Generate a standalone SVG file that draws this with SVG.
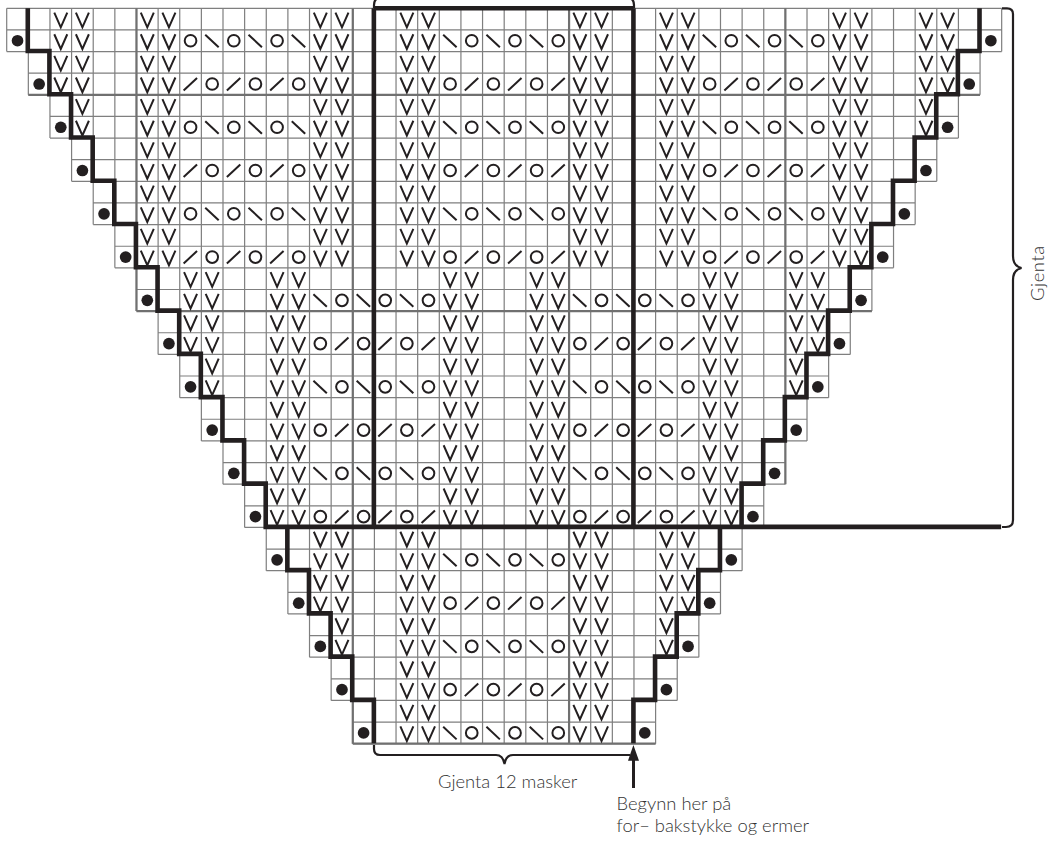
<svg xmlns="http://www.w3.org/2000/svg" width="1051" height="842" viewBox="0 0 1051 842">
<style>
.thin{fill:none;stroke:#7f7f7f;stroke-width:1.2;vector-effect:non-scaling-stroke}
.med{fill:none;stroke:#707070;stroke-width:2.2;vector-effect:non-scaling-stroke}
.bold{fill:none;stroke:#231f20;stroke-width:4.6;vector-effect:non-scaling-stroke}
.sym{fill:none;stroke:#231f20;stroke-width:2;vector-effect:non-scaling-stroke}
.brace{fill:none;stroke:#231f20;stroke-width:2.2}
.lbl{font-family:"Lato","Liberation Sans",sans-serif;font-weight:300;font-size:18.4px;fill:#333}
</style>
<defs>
<path id="v" class="sym" d="M.2 .2L.5 .88L.8 .2"/>
<circle id="o" class="sym" cx=".5" cy=".5" r=".27"/>
<path id="b" class="sym" d="M.18 .22L.8 .8"/>
<path id="f" class="sym" d="M.18 .8L.8 .22"/>
<circle id="d" cx=".5" cy=".5" r=".27" fill="#231f20"/>
<g id="vv"><use href="#v"/><use href="#v" x="1"/></g>
<g id="la"><use href="#o"/><use href="#b" x="1"/><use href="#o" x="2"/><use href="#b" x="3"/><use href="#o" x="4"/><use href="#b" x="5"/></g>
<g id="lb"><use href="#f"/><use href="#o" x="1"/><use href="#f" x="2"/><use href="#o" x="3"/><use href="#f" x="4"/><use href="#o" x="5"/></g>
<g id="lc"><use href="#b"/><use href="#o" x="1"/><use href="#b" x="2"/><use href="#o" x="3"/><use href="#b" x="4"/><use href="#o" x="5"/></g>
<g id="ld"><use href="#o"/><use href="#f" x="1"/><use href="#o" x="2"/><use href="#f" x="3"/><use href="#o" x="4"/><use href="#f" x="5"/></g>
<g id="u"><use href="#vv" x="6"/><use href="#vv" x="14"/><use href="#vv" x="18"/><use href="#vv" x="26"/><use href="#vv" x="30"/><use href="#vv" x="38"/></g>
<g id="m"><use href="#vv" x="12"/><use href="#vv" x="20"/><use href="#vv" x="24"/><use href="#vv" x="32"/></g>
<g id="l"><use href="#vv" x="18"/><use href="#vv" x="26"/></g>
</defs>
<rect width="1051" height="842" fill="#fff"/>
<g id="chart" transform="translate(6.7 8.3) scale(21.63)">
<path id="grid" class="thin" d="M0 0H46M0 1H46M0 2H46M1 3H45M1 4H45M2 5H44M2 6H44M3 7H43M3 8H43M4 9H42M4 10H42M5 11H41M5 12H41M6 13H40M6 14H40M7 15H39M7 16H39M8 17H38M8 18H38M9 19H37M9 20H37M10 21H36M10 22H36M11 23H35M11 24H35M12 25H34M12 26H34M13 27H33M13 28H33M14 29H32M14 30H32M15 31H31M15 32H31M16 33H30M16 34H30M0 0V2M1 0V4M2 0V6M3 0V8M4 0V10M5 0V12M6 0V14M7 0V16M8 0V18M9 0V20M10 0V22M11 0V24M12 0V26M13 0V28M14 0V30M15 0V32M16 0V34M17 0V34M18 0V34M19 0V34M20 0V34M21 0V34M22 0V34M23 0V34M24 0V34M25 0V34M26 0V34M27 0V34M28 0V34M29 0V34M30 0V34M31 0V32M32 0V30M33 0V28M34 0V26M35 0V24M36 0V22M37 0V20M38 0V18M39 0V16M40 0V14M41 0V12M42 0V10M43 0V8M44 0V6M45 0V4M46 0V2"/>
<path id="grid-heavy" class="med" d="M6 0V14M16 0V34M26 0V34M36 0V22M1 4H45M6 14H40M16 34H30"/>
<g id="symbols">
<use href="#u" y="0"/><use href="#u" y="1"/><use href="#u" y="2"/><use href="#u" y="3"/><use href="#u" y="4"/><use href="#u" y="5"/><use href="#u" y="6"/><use href="#u" y="7"/><use href="#u" y="8"/><use href="#u" y="9"/><use href="#u" y="10"/><use href="#u" y="11"/>
<use href="#vv" x="2" y="0"/><use href="#vv" x="42" y="0"/><use href="#vv" x="2" y="1"/><use href="#vv" x="42" y="1"/><use href="#vv" x="2" y="2"/><use href="#vv" x="42" y="2"/><use href="#vv" x="2" y="3"/><use href="#vv" x="42" y="3"/>
<use href="#v" x="3" y="4"/><use href="#v" x="42" y="4"/><use href="#v" x="3" y="5"/><use href="#v" x="42" y="5"/>
<use href="#la" x="8" y="1"/><use href="#lc" x="20" y="1"/><use href="#lc" x="32" y="1"/>
<use href="#lb" x="8" y="3"/><use href="#ld" x="20" y="3"/><use href="#ld" x="32" y="3"/>
<use href="#la" x="8" y="5"/><use href="#lc" x="20" y="5"/><use href="#lc" x="32" y="5"/>
<use href="#lb" x="8" y="7"/><use href="#ld" x="20" y="7"/><use href="#ld" x="32" y="7"/>
<use href="#la" x="8" y="9"/><use href="#lc" x="20" y="9"/><use href="#lc" x="32" y="9"/>
<use href="#lb" x="8" y="11"/><use href="#ld" x="20" y="11"/><use href="#ld" x="32" y="11"/>
<use href="#m" y="12"/><use href="#m" y="13"/><use href="#m" y="14"/><use href="#m" y="15"/><use href="#m" y="16"/><use href="#m" y="17"/><use href="#m" y="18"/><use href="#m" y="19"/><use href="#m" y="20"/><use href="#m" y="21"/><use href="#m" y="22"/><use href="#m" y="23"/>
<use href="#vv" x="8" y="12"/><use href="#vv" x="36" y="12"/><use href="#vv" x="8" y="13"/><use href="#vv" x="36" y="13"/><use href="#vv" x="8" y="14"/><use href="#vv" x="36" y="14"/><use href="#vv" x="8" y="15"/><use href="#vv" x="36" y="15"/>
<use href="#v" x="9" y="16"/><use href="#v" x="36" y="16"/><use href="#v" x="9" y="17"/><use href="#v" x="36" y="17"/>
<use href="#lc" x="14" y="13"/><use href="#lc" x="26" y="13"/>
<use href="#ld" x="14" y="15"/><use href="#ld" x="26" y="15"/>
<use href="#lc" x="14" y="17"/><use href="#lc" x="26" y="17"/>
<use href="#ld" x="14" y="19"/><use href="#ld" x="26" y="19"/>
<use href="#lc" x="14" y="21"/><use href="#lc" x="26" y="21"/>
<use href="#ld" x="14" y="23"/><use href="#ld" x="26" y="23"/>
<use href="#l" y="24"/><use href="#l" y="25"/><use href="#l" y="26"/><use href="#l" y="27"/><use href="#l" y="28"/><use href="#l" y="29"/><use href="#l" y="30"/><use href="#l" y="31"/><use href="#l" y="32"/><use href="#l" y="33"/>
<use href="#vv" x="14" y="24"/><use href="#vv" x="30" y="24"/><use href="#vv" x="14" y="25"/><use href="#vv" x="30" y="25"/><use href="#vv" x="14" y="26"/><use href="#vv" x="30" y="26"/><use href="#vv" x="14" y="27"/><use href="#vv" x="30" y="27"/>
<use href="#v" x="15" y="28"/><use href="#v" x="30" y="28"/><use href="#v" x="15" y="29"/><use href="#v" x="30" y="29"/>
<use href="#lc" x="20" y="25"/><use href="#ld" x="20" y="27"/><use href="#lc" x="20" y="29"/><use href="#ld" x="20" y="31"/><use href="#lc" x="20" y="33"/>
</g>
<g id="dots">
<use href="#d" x="0" y="1"/><use href="#d" x="45" y="1"/><use href="#d" x="1" y="3"/><use href="#d" x="44" y="3"/><use href="#d" x="2" y="5"/><use href="#d" x="43" y="5"/><use href="#d" x="3" y="7"/><use href="#d" x="42" y="7"/><use href="#d" x="4" y="9"/><use href="#d" x="41" y="9"/><use href="#d" x="5" y="11"/><use href="#d" x="40" y="11"/><use href="#d" x="6" y="13"/><use href="#d" x="39" y="13"/><use href="#d" x="7" y="15"/><use href="#d" x="38" y="15"/><use href="#d" x="8" y="17"/><use href="#d" x="37" y="17"/><use href="#d" x="9" y="19"/><use href="#d" x="36" y="19"/><use href="#d" x="10" y="21"/><use href="#d" x="35" y="21"/><use href="#d" x="11" y="23"/><use href="#d" x="34" y="23"/><use href="#d" x="12" y="25"/><use href="#d" x="33" y="25"/><use href="#d" x="13" y="27"/><use href="#d" x="32" y="27"/><use href="#d" x="14" y="29"/><use href="#d" x="31" y="29"/><use href="#d" x="15" y="31"/><use href="#d" x="30" y="31"/><use href="#d" x="16" y="33"/><use href="#d" x="29" y="33"/>
</g>
<path id="stairs" class="bold" transform="translate(-.025 -.025)" d="M1 .025V2H2V4H3V6H4V8H5V10H6V12H7V14H8V16H9V18H10V20H11V22H12V24H46M45 .025V2H44V4H43V6H42V8H41V10H40V12H39V14H38V16H37V18H36V20H35V22H34V24M13 24V26H14V28H15V30H16V32H17V34M33 24V26H32V28H31V30H30V32H29V34M17 .025V24M29 .025V24M17 .025H29"/>
</g>
<g id="annotations">
<path class="brace" d="M374 8V5Q374 -2 381 -3H627Q634 -2 634 5V8"/>
<path class="brace" d="M1002 8.3H1007Q1013 8.3 1013 14V256Q1013 266 1021.5 268Q1013 270 1013 280V520Q1013 527 1006 527H1002"/>
<path class="brace" d="M374 745V749Q374 755 380 755H496Q503 755 504.5 764Q506 755 513 755H630"/>
<path d="M633.4 745L639 760.7H635V788H632V760.7H628Z" fill="#231f20"/>
<text class="lbl" x="438" y="788">Gjenta 12 masker</text>
<text class="lbl" x="616.5" y="810">Begynn her på</text>
<text class="lbl" x="616.5" y="831.5">for– bakstykke og ermer</text>
<text class="lbl" transform="translate(1043.5 301) rotate(-90)" letter-spacing=".6">Gjenta</text>
</g>
</svg>
